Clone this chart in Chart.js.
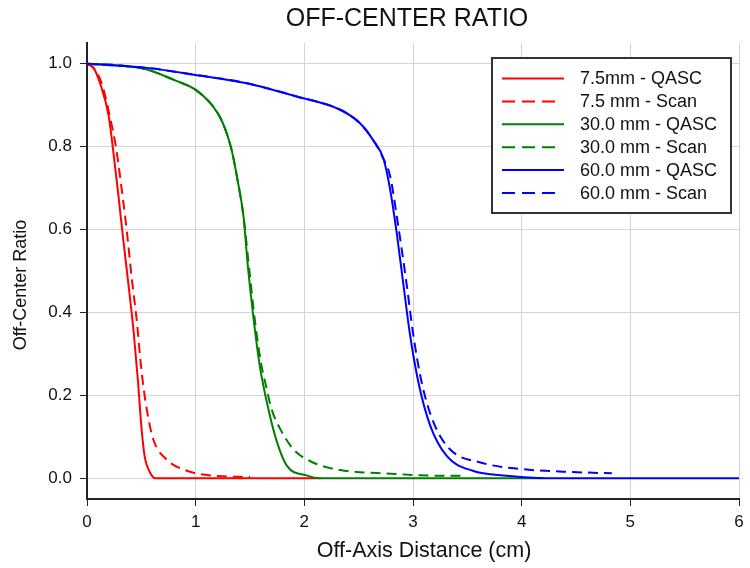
<!DOCTYPE html>
<html>
  <head>
    <style>
      body {
        margin: 0;
        background: #fff;
      }
    </style>
    <script src="https://cdn.jsdelivr.net/npm/chart.js"></script>
  </head>
  <body>
    <canvas id="ratioChart" width="750" height="568"></canvas>
    <script>
      // values (x in cm, y = off-center ratio)
      var qasc75X = [0, 0.06, 0.12, 0.2, 0.24, 0.29, 0.33, 0.38, 0.43, 0.47, 0.5, 0.53, 0.58, 0.63, 1.0, 1.5, 2.15];
      var qasc75Y = [1.0, 0.99, 0.953, 0.873, 0.793, 0.68, 0.584, 0.471, 0.351, 0.231, 0.126, 0.054, 0.014, 0.0, 0, 0, 0];

      var scan75X = [0, 0.06, 0.135, 0.21, 0.27, 0.32, 0.365, 0.41, 0.46, 0.5, 0.55, 0.61, 0.73, 0.92, 1.16, 1.5];
      var scan75Y = [1.0, 0.99, 0.953, 0.873, 0.793, 0.696, 0.6, 0.487, 0.375, 0.263, 0.166, 0.094, 0.046, 0.018, 0.006, 0.003];

      var qasc30X = [0, 0.3, 0.55, 0.8, 1.0, 1.16, 1.25, 1.33, 1.39, 1.44, 1.48, 1.53, 1.59, 1.67, 1.75, 1.84, 2.02, 2.15, 3.0, 4.2];
      var qasc30Y = [1.0, 0.996, 0.986, 0.961, 0.937, 0.897, 0.857, 0.793, 0.713, 0.632, 0.512, 0.391, 0.271, 0.166, 0.086, 0.03, 0.007, 0.0, 0, 0];

      var scan30X = [0, 0.3, 0.55, 0.8, 1.0, 1.16, 1.25, 1.33, 1.39, 1.44, 1.49, 1.54, 1.6, 1.64, 1.7, 1.78, 1.9, 2.08, 2.33, 2.8, 3.25, 3.44];
      var scan30Y = [1.0, 0.996, 0.986, 0.961, 0.937, 0.897, 0.857, 0.793, 0.713, 0.632, 0.512, 0.391, 0.28, 0.231, 0.166, 0.118, 0.07, 0.038, 0.02, 0.011, 0.006, 0.006];

      var qasc60X = [0, 0.55, 1.0, 1.47, 1.93, 2.33, 2.51, 2.63, 2.73, 2.79, 2.85, 2.91, 2.97, 3.05, 3.16, 3.31, 3.55, 3.86, 4.23, 5.0, 6.0];
      var qasc60Y = [1.0, 0.99, 0.973, 0.953, 0.921, 0.889, 0.857, 0.817, 0.769, 0.696, 0.592, 0.471, 0.351, 0.231, 0.126, 0.054, 0.018, 0.006, 0, 0, 0];

      var scan60X = [0, 0.55, 1.0, 1.47, 1.93, 2.33, 2.51, 2.63, 2.72, 2.79, 2.86, 2.94, 3.0, 3.08, 3.19, 3.34, 3.62, 4.01, 4.47, 4.83];
      var scan60Y = [1.0, 0.99, 0.973, 0.953, 0.921, 0.889, 0.857, 0.817, 0.775, 0.728, 0.616, 0.471, 0.351, 0.231, 0.134, 0.07, 0.038, 0.022, 0.015, 0.012];

      var seriesLabels = ['7.5mm - QASC', '7.5 mm - Scan', '30.0 mm - QASC', '30.0 mm - Scan', '60.0 mm - QASC', '60.0 mm - Scan'];
      var yTicks = [0, 0.2, 0.4, 0.6, 0.8, 1.0];
      var xTicks = [0, 1, 2, 3, 4, 5, 6];

      var FONT = "'Liberation Sans', Arial, sans-serif";

      function toPoints(xs, ys) {
        return xs.map(function(x, i) { return { x: x, y: ys[i] }; });
      }

      function makeSet(label, xs, ys, color, dashed, order) {
        return {
          label: label,
          data: toPoints(xs, ys),
          borderColor: color,
          backgroundColor: color,
          borderWidth: 2,
          borderDash: dashed ? [10, 6] : [],
          pointRadius: 0,
          fill: false,
          cubicInterpolationMode: 'monotone',
          order: order
        };
      }

      // legend box, chart title and axis titles
      var boxLegend = {
        id: 'boxLegend',
        afterDraw: function(chart) {
          var ctx = chart.ctx;
          ctx.save();
          ctx.fillStyle = '#fff';
          ctx.fillRect(492, 58, 239, 155);
          ctx.strokeStyle = '#333';
          ctx.lineWidth = 2;
          ctx.strokeRect(492, 58, 239, 155);
          ctx.font = '18px ' + FONT;
          ctx.textBaseline = 'middle';
          chart.data.datasets.forEach(function(ds, i) {
            var y = 78.5 + i * 22.9;
            ctx.strokeStyle = ds.borderColor;
            ctx.lineWidth = 2;
            ctx.setLineDash(ds.borderDash.length ? [13, 7] : []);
            ctx.beginPath();
            ctx.moveTo(502, y);
            ctx.lineTo(ds.borderDash.length ? 559 : 564, y);
            ctx.stroke();
            ctx.setLineDash([]);
            ctx.fillStyle = '#111';
            ctx.fillText(ds.label, 580, y + 1);
          });

          ctx.fillStyle = '#111';
          ctx.textAlign = 'center';
          ctx.font = '25px ' + FONT;
          ctx.fillText('OFF-CENTER RATIO', 407, 19);

          ctx.font = '21.5px ' + FONT;
          ctx.fillText('Off-Axis Distance (cm)', 424, 551);

          ctx.font = '18px ' + FONT;
          ctx.translate(21, 285);
          ctx.rotate(-Math.PI / 2);
          ctx.fillText('Off-Center Ratio', 0, 0);
          ctx.restore();
        }
      };

      var ctx = document.getElementById('ratioChart').getContext('2d');
      new Chart(ctx, {
        type: 'line',
        data: {
          datasets: [
            makeSet(seriesLabels[0], qasc75X, qasc75Y, '#ff0000', false, 5),
            makeSet(seriesLabels[1], scan75X, scan75Y, '#ff0000', true, 4),
            makeSet(seriesLabels[2], qasc30X, qasc30Y, '#008000', false, 3),
            makeSet(seriesLabels[3], scan30X, scan30Y, '#008000', true, 2),
            makeSet(seriesLabels[4], qasc60X, qasc60Y, '#0000ff', false, 1),
            makeSet(seriesLabels[5], scan60X, scan60Y, '#0000ff', true, 0)
          ]
        },
        options: {
          responsive: false,
          animation: false,
          devicePixelRatio: 1,
          layout: { padding: { top: 43, right: 11, left: 0, bottom: 0 } },
          plugins: {
            legend: { display: false },
            tooltip: { enabled: false }
          },
          scales: {
            x: {
              type: 'linear',
              min: 0,
              max: 6,
              afterFit: function(scale) { scale.height = 69; },
              afterBuildTicks: function(scale) {
                scale.ticks = xTicks.map(function(v) { return { value: v }; });
              },
              ticks: {
                color: '#111',
                padding: 6,
                font: { family: FONT, size: 17 },
                callback: function(v) { return String(v); }
              },
              grid: { color: '#d4d4d4', tickColor: '#222', tickLength: 7, lineWidth: 1 },
              border: { color: '#222', width: 2 }
            },
            y: {
              type: 'linear',
              min: -0.05,
              max: 1.05,
              afterFit: function(scale) { scale.width = 87; },
              afterBuildTicks: function(scale) {
                scale.ticks = yTicks.map(function(v) { return { value: v }; });
              },
              ticks: {
                color: '#111',
                padding: 8,
                font: { family: FONT, size: 17 },
                callback: function(v) { return v.toFixed(1); }
              },
              grid: { color: '#d4d4d4', tickColor: '#222', tickLength: 7, lineWidth: 1 },
              border: { color: '#222', width: 2 }
            }
          }
        },
        plugins: [boxLegend]
      });
    </script>
  </body>
</html>
